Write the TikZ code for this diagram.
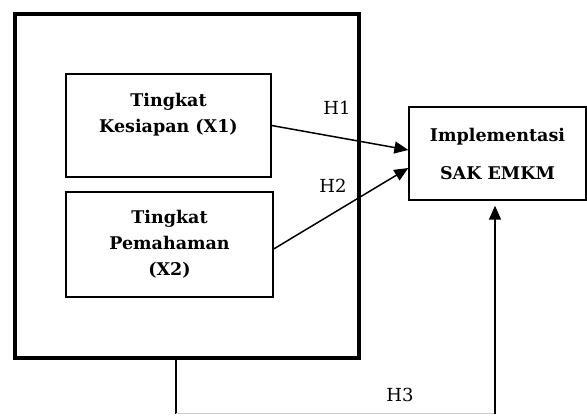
\documentclass[tikz,border=0pt]{standalone}
\usepackage{fontspec}
\setmainfont{DejaVu Serif}
\usetikzlibrary{arrows.meta,positioning}

\begin{document}
\begin{tikzpicture}[x=1pt,y=-1pt,
  var/.style={draw,line width=1.3pt,
    align=center,inner sep=0pt,
    font=\bfseries\fontsize{17.5}{26}\selectfont},
  hyp/.style={font=\fontsize{18}{20}\selectfont},
  arr/.style={line width=1.5pt,-{Triangle[length=14pt,width=12pt]}},
  link/.style={line width=1.5pt}]

 \useasboundingbox (0,0) rectangle (587,416);

 % the group of independent variables
 \node[draw,line width=4pt,minimum width=344pt,minimum height=344pt,inner sep=0pt] (frame) at (187,186) {};

 \node[var,minimum width=205pt,minimum height=103pt] (x1) at (168.5,125.5) {Tingkat\\Kesiapan (X1)\\~};
 \node[var,minimum width=207pt,minimum height=105pt] (x2) at (169.5,244.5) {Tingkat\\Pemahaman\\(X2)};
 \node[var,minimum width=177pt,minimum height=93pt] (y) at (497.5,153.5) {Implementasi\\[12pt]SAK EMKM};

 \draw[arr] (x1.east) -- ([yshift=3.5pt]y.west);
 \draw[arr] ([yshift=-4.5pt]x2.east) -- ([yshift=-14.5pt]y.west);
 \node[hyp] (h1) at (337,108) {H1};
 \node[hyp] (h2) at (333,186) {H2};

 % H3: from the whole group
 \coordinate (c1) at (176,413.5);
 \coordinate (c2) at (495,413.5);
 \draw[link] (frame.south -| c1) -- (c1);
 \draw[gray!40,line width=1pt] (c1) -- (c2);
 \draw[arr,shorten >=5pt] (c2) -- (y.south -| c2);
 \node[hyp] (h3) at (400,395) {H3};

\end{tikzpicture}
\end{document}
